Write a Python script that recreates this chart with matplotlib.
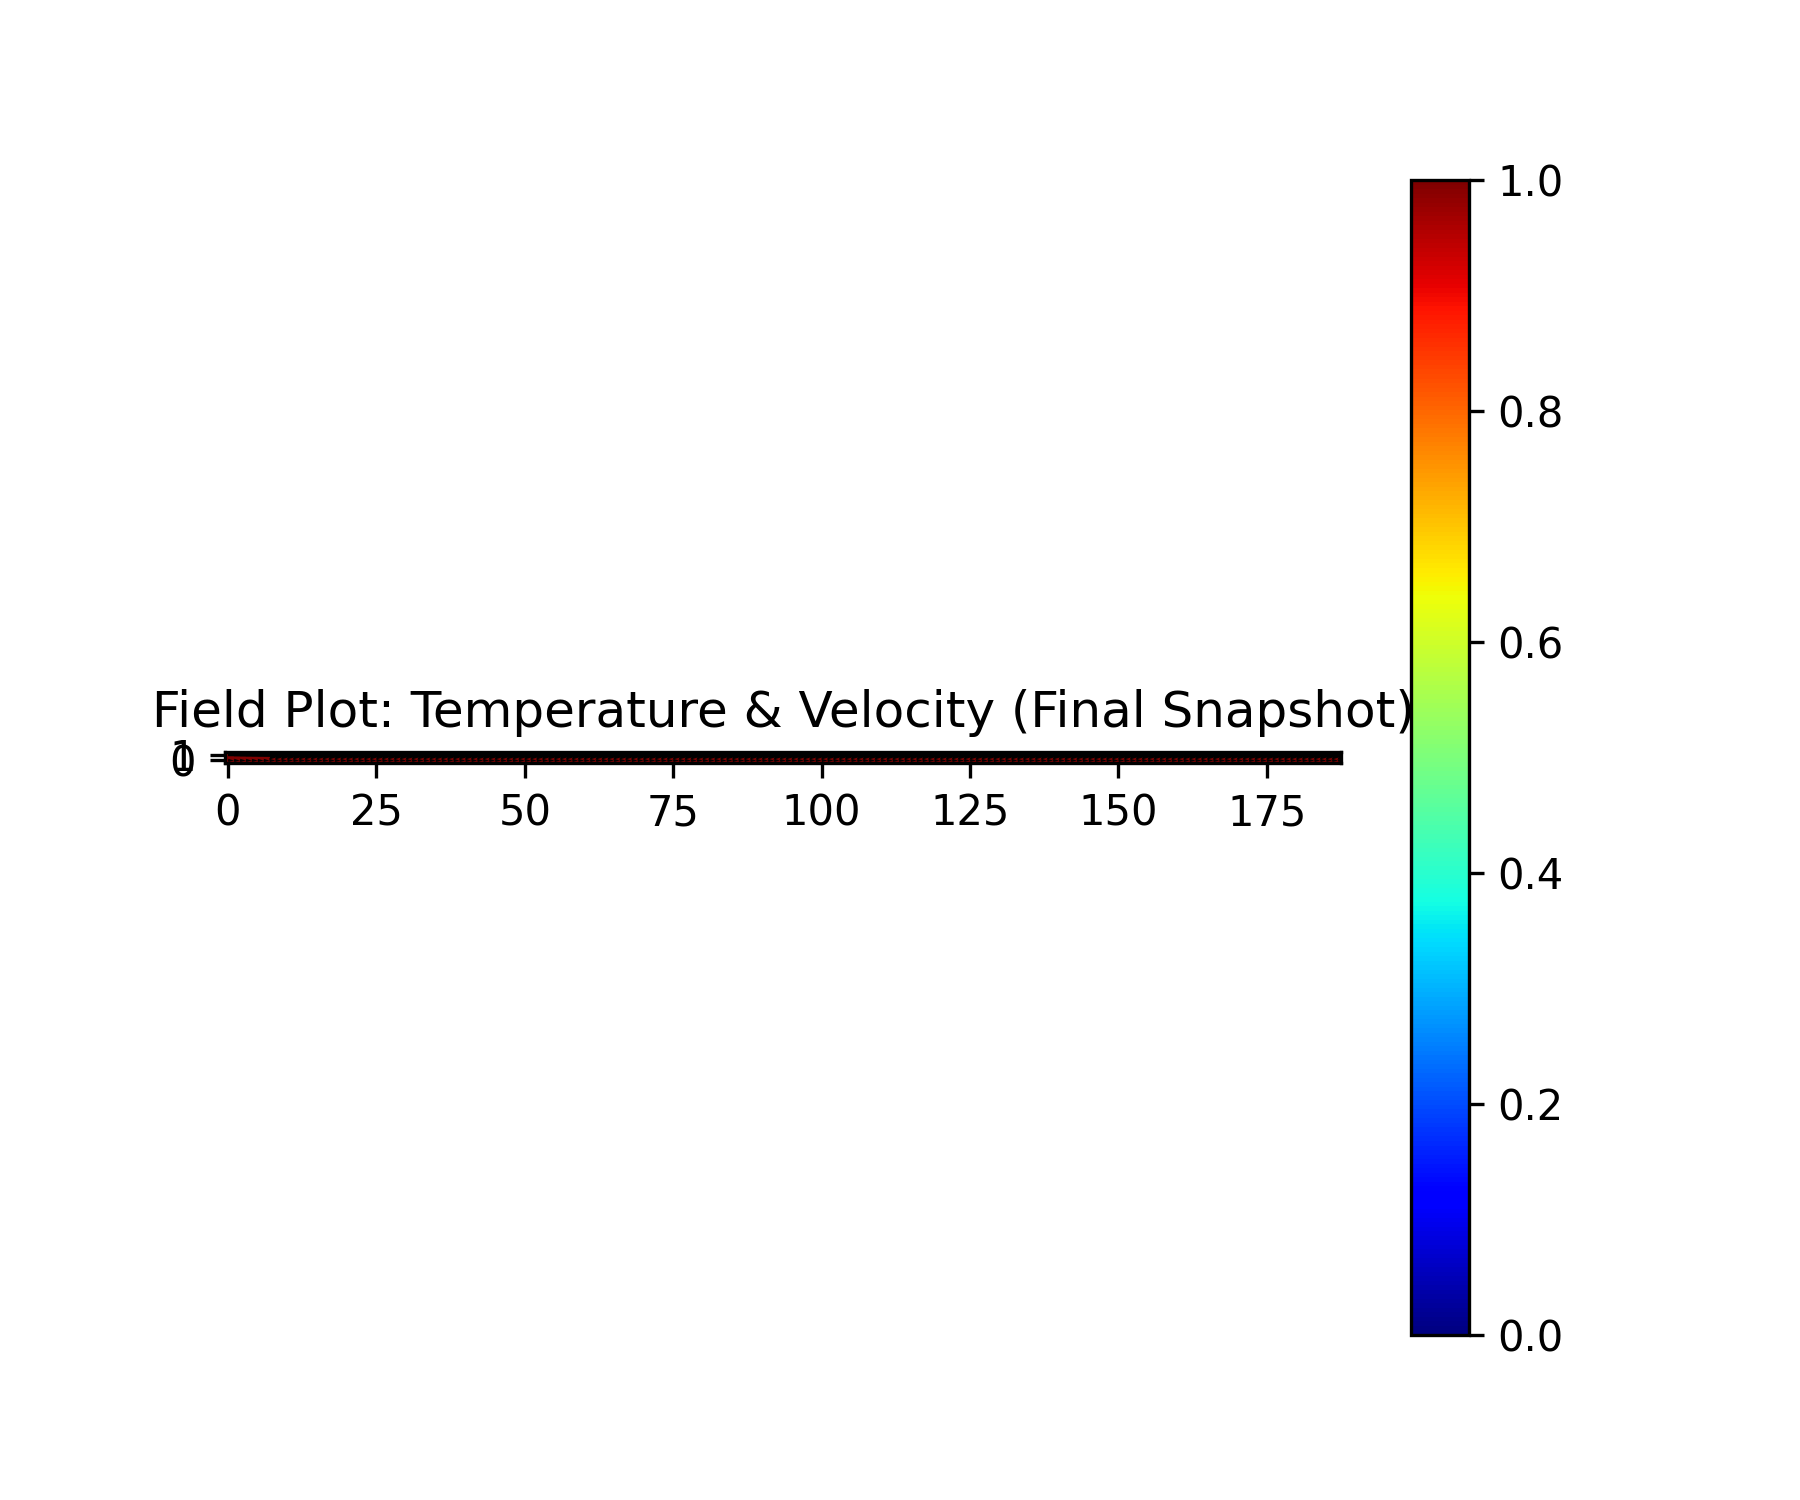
import numpy as np
import matplotlib
matplotlib.use("Agg")
import matplotlib.pyplot as plt

# Field values (2 rows x 188 columns), final snapshot
n_cols = 188
n_rows = 2
temperature_row0 = [1.0] * n_cols
temperature_row1 = [1.0] * n_cols
velocity_u_row0 = [0.1] * n_cols
velocity_u_row1 = [1.0] * n_cols
velocity_v_row0 = [0.0] * n_cols
velocity_v_row1 = [0.0] * n_cols

title = "Field Plot: Temperature & Velocity (Final Snapshot)"

T = np.array([temperature_row0, temperature_row1])
U = np.array([velocity_u_row0, velocity_u_row1])
V = np.array([velocity_v_row0, velocity_v_row1])

fig, ax = plt.subplots(figsize=(6, 5), dpi=300)
im = ax.imshow(T, cmap="jet", origin="lower", vmin=0, vmax=1)
X, Y = np.meshgrid(np.arange(n_cols), np.arange(n_rows))
ax.quiver(X, Y, U, V, color="black")
ax.set_title(title)
fig.colorbar(im, ax=ax)
fig.savefig("out.png", dpi=300)
